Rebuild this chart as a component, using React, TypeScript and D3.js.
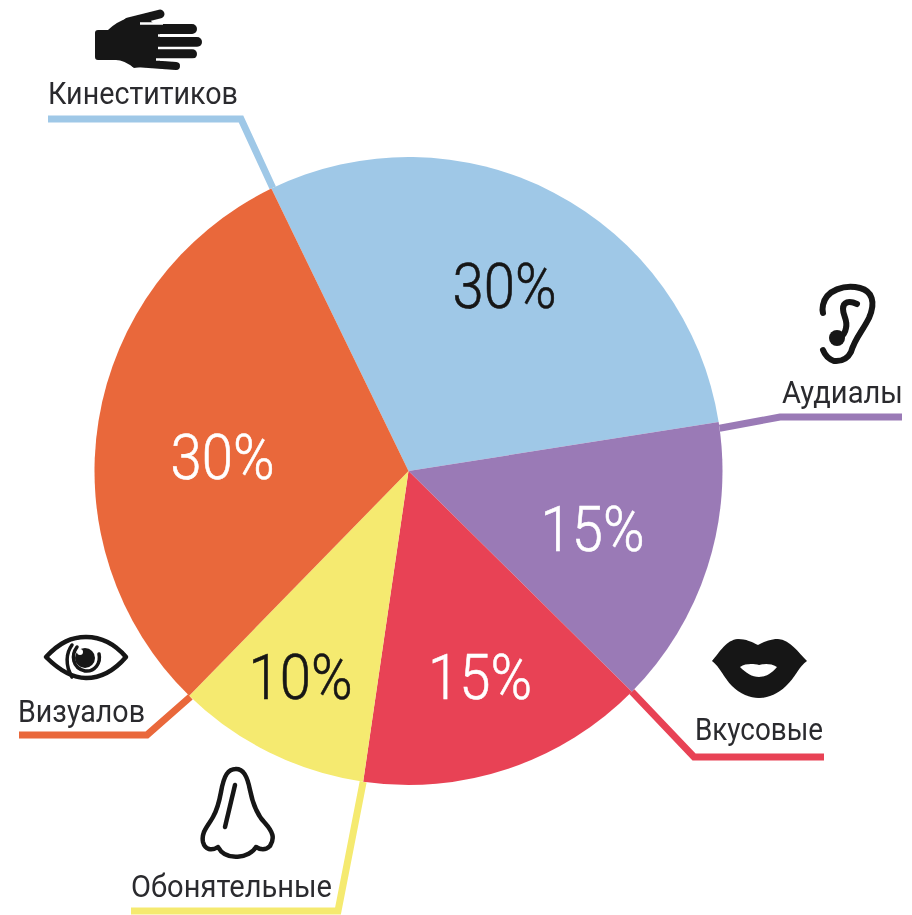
import React from "react";
import * as d3 from "d3";

const WIDTH = 912;
const HEIGHT = 915;

// Data, in drawing order, clockwise from the Кинеститиков slice
const categories = ["Кинеститиков", "Аудиалы", "Вкусовые", "Обонятельные", "Визуалов"];
const shares = [30, 15, 15, 10, 30];
// The slices as actually drawn in the picture differ slightly from the printed labels
const drawnShares = [29.7, 14.9, 14.9, 10.0, 30.5];
const colors = ["#9FC8E7", "#9A7AB6", "#E84355", "#F5EA70", "#E9673A"];
const percentColors = ["#141414", "#ffffff", "#ffffff", "#141414", "#ffffff"];

// Layout
const cx = 408.5;
const cy = 471;
const radius = 314;
const startDeg = -25.9;
const percentPos: [number, number][] = [[504.5, 308], [592.5, 551], [480, 699], [300.5, 699], [222.5, 479]];
const labelPos: [number, number, number][] = [[48, 104, 190], [782, 403, 121], [695, 740, 128], [131, 897, 201], [18, 722, 127]];
// Leader elbow and end, the start comes from the slice's first edge on the rim
const leaderElbows: [number, number][][] = [
  [[241, 119], [48, 119]],
  [[780, 417], [902, 417]],
  [[694, 757], [824, 757]],
  [[338, 911], [131, 911]],
  [[147, 735], [19, 735]],
];

function Hand() {
  return (
    <g fill="#141414" stroke="#141414" strokeLinecap="round">
      <path stroke="none" d="M95 33 Q95 30 98 30 L108 30 Q116 22 128 18 L148 18 L160 30 L160 64 L134 68 Q124 60 116 60 L98 60 Q95 60 95 57 Z" />
      <path fill="none" strokeWidth={9} d="M128 22 L160 14" />
      <path fill="none" strokeWidth={10} d="M135 29 L192 29" />
      <path fill="none" strokeWidth={10} d="M135 42 L197 42" />
      <path fill="none" strokeWidth={10} d="M135 54 L192 54" />
      <path fill="none" strokeWidth={8} d="M135 63 L176 66" />
      <path stroke="#ffffff" strokeWidth={2.5} strokeLinecap="butt" d="M140 23.6 L163 23.6 M158 35.5 L200 35.5 M158 48 L200 48 M156 59.5 L200 59.5" />
    </g>
  );
}

function Ear() {
  return (
    <g fill="none" stroke="#141414" strokeWidth={6} strokeLinecap="round" strokeLinejoin="round">
      <path d="M823 350 Q826 358 834 361 Q846 362 851 352 C855 338 862 332 869 318 C876 302 872 291 860 288 C845 284 826 290 823 305 Q822 310 823 313" />
      <path d="M857 304 C849 300 843 302 843 309 C843 316 848 320 846 328 Q845 334 840 338" />
      <circle cx={837} cy={338} r={8} fill="#141414" stroke="none" />
    </g>
  );
}

function Lips() {
  return (
    <path
      fill="#141414"
      fillRule="evenodd"
      d="M712 661 C720 652 726 640 738 639 C746 639 752 642 758 645 C764 642 770 639 778 639 C790 640 798 652 807 661 C799 666 795 678 786 686 C778 694 768 698 759 698 C750 698 740 694 732 686 C724 678 720 667 712 661 Z M740 667 C746 673 752 677 759 677 C766 677 772 673 777 667 C770 663 764 664 759 665 C754 664 746 663 740 667 Z"
    />
  );
}

function Eye() {
  return (
    <g fill="none" stroke="#141414" strokeLinecap="round">
      <path strokeWidth={4.5} strokeLinejoin="round" d="M46 657 C60 642 72 637 86 637 C100 637 114 643 126 657 C114 671 100 678 86 678 C72 678 60 671 46 657 Z" />
      <path strokeWidth={3.5} d="M72 677 C65 665 66 653 72 645" />
      <path strokeWidth={3.5} d="M77 647 C71 655 72 668 85 671 C95 672 101 663 99 654" />
      <circle cx={85} cy={658} r={10} fill="#141414" stroke="none" />
      <circle cx={80} cy={652} r={3} fill="#ffffff" stroke="none" />
    </g>
  );
}

function Nose() {
  return (
    <g fill="none" stroke="#141414" strokeWidth={4.5} strokeLinecap="round" strokeLinejoin="round">
      <path d="M221 792 C224 775 228 769 236 769 C243 769 247 775 250 790 C253 805 257 815 265 823 C273 832 275 838 270 846 Q264 852 256 847 C250 858 226 862 218 847 C212 851 205 850 203 842 C201 832 208 826 213 817 C217 810 219 803 221 792 Z" />
      <path d="M235 785 L225 827" />
    </g>
  );
}

const icons = [Hand, Ear, Lips, Nose, Eye];

export default function App() {
  const pie = d3
    .pie<number>()
    .sort(null)
    .startAngle((startDeg * Math.PI) / 180)
    .endAngle(((startDeg + 360) * Math.PI) / 180);
  const slices = pie(drawnShares);
  const arc = d3.arc<d3.PieArcDatum<number>>().innerRadius(0).outerRadius(radius);
  const line = d3.line();
  const rim = (a: number): [number, number] => [cx + radius * Math.sin(a), cy - radius * Math.cos(a)];
  // Each leader leaves the rim at a slice's edge
  const leaderAngles = [
    slices[0].startAngle + 0.005,
    slices[1].startAngle + 0.02,
    slices[2].startAngle,
    slices[3].startAngle,
    slices[4].startAngle - 0.005,
  ];

  return (
    <svg
      width={WIDTH}
      height={HEIGHT}
      viewBox={`0 0 ${WIDTH} ${HEIGHT}`}
      style={{ position: "absolute", left: 0, top: 0, background: "#fff" }}
    >
      <defs>
        <filter id="soft" x="0" y="0" width="100%" height="100%" filterUnits="userSpaceOnUse">
          <feGaussianBlur stdDeviation={0.6} />
        </filter>
      </defs>
      <g filter="url(#soft)">
        {categories.map((c, i) => (
          <path
            key={c}
            d={line([rim(leaderAngles[i]), ...leaderElbows[i]]) ?? ""}
            fill="none"
            stroke={colors[i]}
            strokeWidth={7}
            strokeLinejoin="miter"
          />
        ))}
        <g transform={`translate(${cx},${cy})`}>
          {slices.map((s, i) => (
            <path key={categories[i]} d={arc(s) ?? ""} fill={colors[i]} />
          ))}
        </g>
        {shares.map((v, i) => (
          <text
            key={categories[i]}
            x={percentPos[i][0]}
            y={percentPos[i][1]}
            textAnchor="middle"
            fontFamily="Roboto"
            fontWeight={300}
            fontSize={63}
            textLength={104}
            lengthAdjust="spacingAndGlyphs"
            fill={percentColors[i]}
            stroke={percentColors[i]}
            strokeWidth={0.6}
          >
            {v}%
          </text>
        ))}
        {categories.map((c, i) => (
          <text
            key={c}
            x={labelPos[i][0]}
            y={labelPos[i][1]}
            fontFamily="Roboto"
            fontSize={31}
            textLength={labelPos[i][2]}
            lengthAdjust="spacingAndGlyphs"
            fill="#2b2b2e"
          >
            {c}
          </text>
        ))}
        {icons.map((Icon, i) => (
          <Icon key={i} />
        ))}
      </g>
    </svg>
  );
}
